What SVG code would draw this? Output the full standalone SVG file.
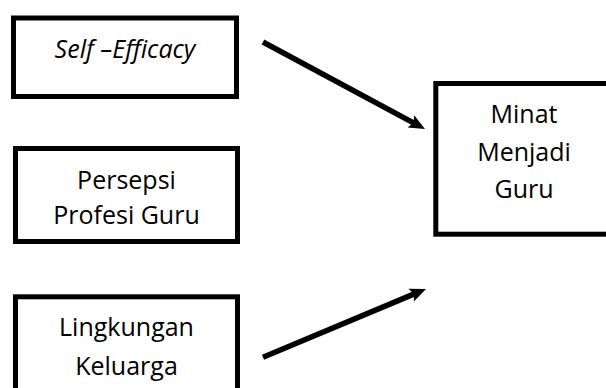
<svg xmlns="http://www.w3.org/2000/svg" width="606" height="388" viewBox="0 0 606 388">
<defs>
<style>
.box{fill:#fff;stroke:#000;stroke-width:5}
.t{font-family:"Open Sans","Noto Sans","Liberation Sans",sans-serif;font-size:25px;fill:#000;text-anchor:middle}
.c{stroke:#000;stroke-width:5.5;fill:none;marker-end:url(#ah)}
</style>
<marker id="ah" markerUnits="userSpaceOnUse" markerWidth="18" markerHeight="16" refX="4" refY="7" orient="auto" viewBox="0 0 18 14">
<path d="M0,0 L16,7 L0,14 L3,7 z" fill="#000"/>
</marker>
</defs>
<rect width="606" height="388" fill="#fff"/>
<g id="n1">
<rect class="box" x="13.5" y="18" width="223" height="78.5"/>
<text class="t" x="125" y="57.5" font-style="italic" font-size="27">Self –Efficacy</text>
</g>
<g id="n2">
<rect class="box" x="15.5" y="148.5" width="222" height="93"/>
<text class="t" x="126.5" y="189">Persepsi</text>
<text class="t" x="126.5" y="224">Profesi Guru</text>
</g>
<g id="n3">
<rect class="box" x="15.5" y="296.8" width="222" height="110"/>
<text class="t" x="126.5" y="336">Lingkungan</text>
<text class="t" x="126.5" y="375">Keluarga</text>
</g>
<g id="n4">
<rect class="box" x="435.8" y="83.5" width="200" height="150.7"/>
<text class="t" x="524" y="123">Minat</text>
<text class="t" x="524" y="161">Menjadi</text>
<text class="t" x="524" y="198">Guru</text>
</g>
<g id="connectors">
<line class="c" x1="263" y1="42" x2="414.4" y2="123.3"/>
<line class="c" x1="263" y1="357.3" x2="414.9" y2="293.6"/>
</g>
</svg>
